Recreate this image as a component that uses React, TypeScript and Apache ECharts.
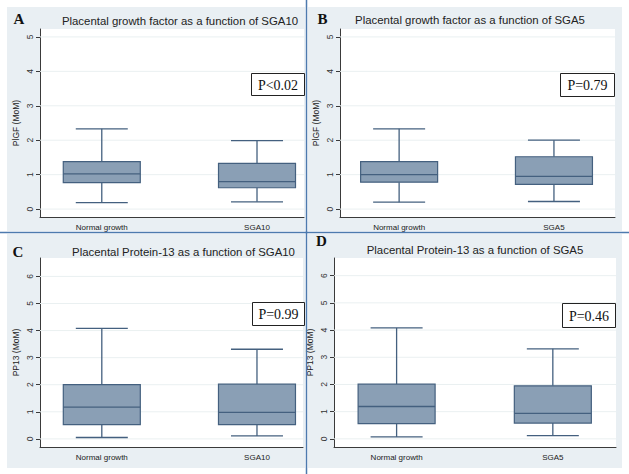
import React, { useEffect, useRef } from 'react';
import * as echarts from 'echarts';

// ---- data ----
const groupsSGA10 = ['Normal growth', 'SGA10'];
const groupsSGA5 = ['Normal growth', 'SGA5'];
// each box: [lower whisker, Q1, median, Q3, upper whisker]
const plgfSGA10 = [
  [0.19, 0.77, 1.02, 1.38, 2.33],
  [0.21, 0.62, 0.8, 1.33, 1.99],
];
const plgfSGA5 = [
  [0.2, 0.78, 1.0, 1.38, 2.33],
  [0.22, 0.72, 0.95, 1.52, 2.0],
];
const pp13SGA10 = [
  [0.05, 0.53, 1.17, 2.0, 4.08],
  [0.11, 0.53, 0.98, 2.02, 3.31],
];
const pp13SGA5 = [
  [0.07, 0.56, 1.19, 2.01, 4.08],
  [0.12, 0.58, 0.94, 1.95, 3.31],
];
const plgfTicks = [0, 1, 2, 3, 4, 5];
const pp13Ticks = [0, 1, 2, 3, 4, 5, 6];
const panelTitles = [
  'Placental growth factor as a function of SGA10',
  'Placental growth factor as a function of SGA5',
  'Placental Protein-13 as a function of SGA10',
  'Placental Protein-13 as a function of SGA5',
];
const panelLetters = ['A', 'B', 'C', 'D'];
const pValues = ['P<0.02', 'P=0.79', 'P=0.99', 'P=0.46'];
const yNames = ['PlGF (MoM)', 'PlGF (MoM)', 'PP13 (MoM)', 'PP13 (MoM)'];

const panelData = [
  { groups: groupsSGA10, boxes: plgfSGA10, ticks: plgfTicks },
  { groups: groupsSGA5, boxes: plgfSGA5, ticks: plgfTicks },
  { groups: groupsSGA10, boxes: pp13SGA10, ticks: pp13Ticks },
  { groups: groupsSGA5, boxes: pp13SGA5, ticks: pp13Ticks },
];

// ---- layout / style ----
const LAYOUT = [
  { grid: { left: 40, top: 29, width: 264, height: 188 }, yMin: -0.23, yMax: 5.23, pos: [0.234, 0.822], bg: [7, 7, 298, 224], title: [180, 21], letter: [19, 19], pbox: [251, 73, 53, 22] },
  { grid: { left: 340, top: 29, width: 275, height: 188 }, yMin: -0.23, yMax: 5.23, pos: [0.215, 0.778], bg: [308, 7, 314, 224], title: [470, 20], letter: [322.5, 19], pbox: [560, 73, 54, 23] },
  { grid: { left: 40, top: 258, width: 263, height: 189 }, yMin: -0.3, yMax: 6.68, pos: [0.235, 0.825], bg: [7, 234, 298, 234], title: [183.5, 252], letter: [18, 251.5], pbox: [252, 302, 52, 23] },
  { grid: { left: 334, top: 258, width: 282, height: 189 }, yMin: -0.3, yMax: 6.65, pos: [0.222, 0.776], bg: [308, 234, 314, 234], title: [475, 250], letter: [321.5, 241], pbox: [562, 303, 53, 24] },
];

const SANS = 'Liberation Sans, Arial, sans-serif';
const SERIF = 'Liberation Serif, Times New Roman, serif';
const BOX_FILL = '#8a9fb5';
const BOX_STROKE = '#44607f';
const BOX_W = 77;
const CAP_W = 52;
const PANEL_BG = '#e9eff3';
const DIVIDER = '#4d7aae';
const AXIS = '#3a3a3a';

export default function App() {
  const ref = useRef<HTMLDivElement>(null);

  useEffect(() => {
    document.body.style.margin = '0';
    const chart = echarts.init(ref.current!, null, { renderer: 'svg' });

    const grid = LAYOUT.map((l) => ({
      ...l.grid,
      show: true,
      backgroundColor: '#ffffff',
      borderWidth: 0,
      containLabel: false,
      outerBoundsMode: 'none',
    }));

    const xAxis = LAYOUT.map((l, i) => ({
      type: 'value',
      gridIndex: i,
      min: 0,
      max: 1,
      axisLine: { show: true, onZero: false, lineStyle: { color: AXIS, width: 1 } },
      axisTick: { show: false },
      splitLine: { show: false },
      axisLabel: {
        customValues: l.pos,
        formatter: (v: number) => {
          let best = 0;
          l.pos.forEach((p, k) => {
            if (Math.abs(p - v) < Math.abs(l.pos[best] - v)) best = k;
          });
          return panelData[i].groups[best];
        },
        fontSize: 8,
        color: '#1a1a1a',
        margin: 6,
        fontFamily: SANS,
      },
    }));

    const yAxis = LAYOUT.map((l, i) => ({
      type: 'value',
      gridIndex: i,
      min: l.yMin,
      max: l.yMax,
      name: yNames[i],
      nameLocation: 'middle',
      nameGap: 20,
      nameRotate: 90,
      nameTextStyle: { fontSize: 8.5, color: '#222', fontFamily: SANS },
      axisLine: { show: true, onZero: false, lineStyle: { color: AXIS, width: 1 } },
      axisTick: { show: true, length: 4, customValues: panelData[i].ticks, lineStyle: { color: AXIS } },
      splitLine: { show: false },
      axisLabel: {
        customValues: panelData[i].ticks,
        rotate: 90,
        fontSize: 8.5,
        color: '#333',
        margin: 6,
        fontFamily: SANS,
      },
    }));

    const series: any[] = [];
    LAYOUT.forEach((l, i) => {
      series.push({
        type: 'custom',
        xAxisIndex: i,
        yAxisIndex: i,
        silent: true,
        clip: false,
        data: panelData[i].ticks.map((t) => [0, t]),
        encode: { x: 0, y: 1 },
        renderItem: (params: any, api: any) => {
          const v = api.value(1);
          const a = api.coord([0, v]);
          const b = api.coord([1, v]);
          return {
            type: 'line',
            shape: { x1: a[0], y1: a[1], x2: b[0], y2: b[1] },
            style: { stroke: '#eaf0f1', lineWidth: 1 },
          };
        },
      });
      series.push({
        type: 'custom',
        xAxisIndex: i,
        yAxisIndex: i,
        silent: true,
        clip: false,
        data: panelData[i].boxes.map((b, k) => [l.pos[k], ...b]),
        dimensions: ['x', 'low', 'q1', 'median', 'q3', 'high'],
        encode: { x: 0, y: [1, 2, 3, 4, 5] },
        renderItem: (params: any, api: any) => {
          const x = api.value(0);
          const lo = api.coord([x, api.value(1)]);
          const q1 = api.coord([x, api.value(2)]);
          const md = api.coord([x, api.value(3)]);
          const q3 = api.coord([x, api.value(4)]);
          const hi = api.coord([x, api.value(5)]);
          const cx = lo[0];
          const hw = BOX_W / 2;
          const cw = CAP_W / 2;
          const ls = { stroke: BOX_STROKE, lineWidth: 1.3 };
          return {
            type: 'group',
            children: [
              { type: 'line', shape: { x1: cx, y1: hi[1], x2: cx, y2: q3[1] }, style: ls },
              { type: 'line', shape: { x1: cx, y1: q1[1], x2: cx, y2: lo[1] }, style: ls },
              { type: 'line', shape: { x1: cx - cw, y1: hi[1], x2: cx + cw, y2: hi[1] }, style: ls },
              { type: 'line', shape: { x1: cx - cw, y1: lo[1], x2: cx + cw, y2: lo[1] }, style: ls },
              {
                type: 'rect',
                shape: { x: cx - hw, y: q3[1], width: BOX_W, height: q1[1] - q3[1] },
                style: { fill: BOX_FILL, stroke: BOX_STROKE, lineWidth: 1.2 },
              },
              { type: 'line', shape: { x1: cx - hw, y1: md[1], x2: cx + hw, y2: md[1] }, style: ls },
            ],
          };
        },
      });
    });

    const elements: any[] = [];
    LAYOUT.forEach((l, i) => {
      elements.push({
        type: 'rect',
        z: -5,
        shape: { x: l.bg[0], y: l.bg[1], width: l.bg[2], height: l.bg[3] },
        style: { fill: PANEL_BG },
        silent: true,
      });
      elements.push({
        type: 'text',
        z: 50,
        x: l.title[0],
        y: l.title[1],
        style: {
          text: panelTitles[i],
          fontSize: 11.4,
          fontFamily: SANS,
          fill: '#222',
          align: 'center',
          verticalAlign: 'middle',
          textAlign: 'center',
          textVerticalAlign: 'middle',
        },
      });
      elements.push({
        type: 'text',
        z: 50,
        x: l.letter[0],
        y: l.letter[1],
        style: {
          text: panelLetters[i],
          fontSize: 15,
          fontWeight: 'bold',
          fontFamily: SERIF,
          fill: '#111',
          align: 'center',
          verticalAlign: 'middle',
          textAlign: 'center',
          textVerticalAlign: 'middle',
        },
      });
      elements.push({
        type: 'rect',
        z: 50,
        shape: { x: l.pbox[0] + 0.5, y: l.pbox[1] + 0.5, width: l.pbox[2], height: l.pbox[3] },
        style: { fill: '#ffffff', stroke: '#222', lineWidth: 1 },
      });
      elements.push({
        type: 'text',
        z: 51,
        x: l.pbox[0] + l.pbox[2] / 2 + 0.5,
        y: l.pbox[1] + l.pbox[3] / 2 + 1,
        style: {
          text: pValues[i],
          fontSize: 14,
          fontFamily: SERIF,
          fill: '#111',
          align: 'center',
          verticalAlign: 'middle',
          textAlign: 'center',
          textVerticalAlign: 'middle',
        },
      });
    });
    elements.push({
      type: 'line',
      z: 60,
      shape: { x1: 306.5, y1: 0, x2: 306.5, y2: 474 },
      style: { stroke: DIVIDER, lineWidth: 1.5 },
    });
    elements.push({
      type: 'line',
      z: 60,
      shape: { x1: 0, y1: 232.5, x2: 629, y2: 232.5 },
      style: { stroke: DIVIDER, lineWidth: 1.5 },
    });

    chart.setOption({
      animation: false,
      backgroundColor: '#ffffff',
      grid,
      xAxis,
      yAxis,
      series,
      graphic: { elements },
    });

    return () => chart.dispose();
  }, []);

  return <div ref={ref} style={{ width: 629, height: 474, background: '#fff' }} />;
}
